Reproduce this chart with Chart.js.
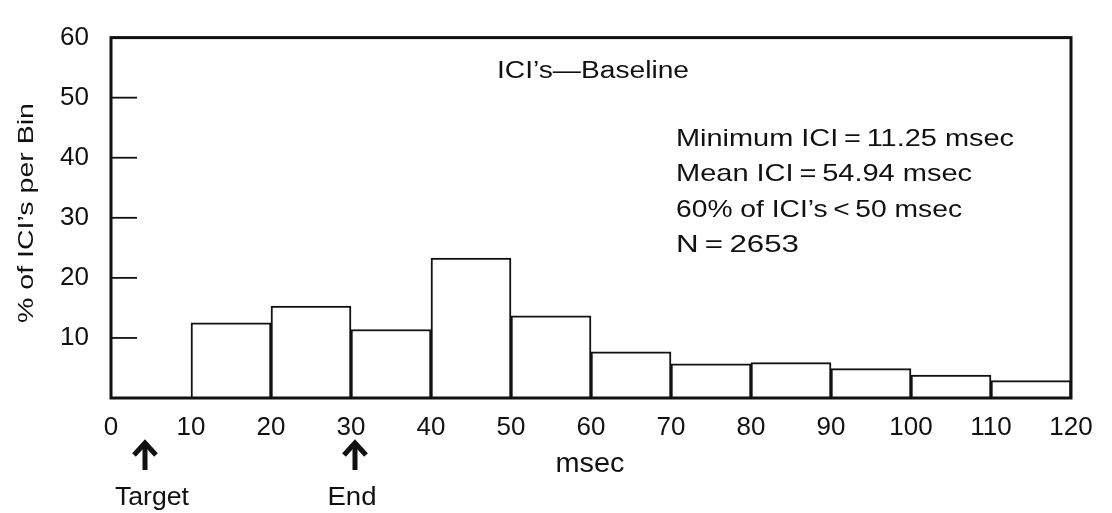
<!DOCTYPE html>
<html>
<head>
<meta charset="utf-8">
<title>ICI's - Baseline</title>
<script src="https://cdn.jsdelivr.net/npm/chart.js@4"></script>
<style>
  html, body { margin: 0; padding: 0; background: #fff; }
  #wrap { width: 1112px; height: 513px; }
</style>
</head>
<body>
<div id="wrap"><canvas id="grafico" width="1112" height="513"></canvas></div>
<script>
// histograma de intervalos (bins de 10 ms)
const binStarts = [10, 20, 30, 40, 50, 60, 70, 80, 90, 100, 110];
const binPercents = [12.5, 15.3, 11.4, 23.3, 13.7, 7.7, 5.7, 5.9, 4.9, 3.8, 2.9];
const yTicks = [10, 20, 30, 40, 50, 60];
const xTicks = [0, 10, 20, 30, 40, 50, 60, 70, 80, 90, 100, 110, 120];
const markerValues = [4.25, 30.5];
const markerLabels = ["Target", "End"];
const titulo = "ICI\u2019s\u2014Baseline";
const statLines = [
  "Minimum ICI\u2009=\u200911.25 msec",
  "Mean ICI\u2009=\u200954.94 msec",
  "60% of ICI\u2019s\u2009<\u200950 msec",
  "N\u2009=\u20092653"
];
const ejeY = "% of ICI\u2019s per Bin";
const ejeX = "msec";

const FONT = "'Liberation Sans', Arial, Helvetica, sans-serif";
const INK = "#111";

// texto con ancho forzado (la tipografia original es mas ancha)
function escribir(ctx, texto, x, y, size, ancho, align) {
  ctx.save();
  ctx.font = size + "px " + FONT;
  ctx.fillStyle = INK;
  ctx.textAlign = align || "left";
  ctx.textBaseline = "alphabetic";
  const w = ctx.measureText(texto).width;
  const k = ancho ? ancho / w : 1;
  ctx.translate(x, y);
  ctx.scale(k, 1);
  ctx.fillText(texto, 0, 0);
  ctx.restore();
}

const marco = {
  id: "marco",
  afterDatasetsDraw(chart) {
    const ctx = chart.ctx;
    const a = chart.chartArea;
    const y = chart.scales.y;
    ctx.save();
    ctx.strokeStyle = INK;
    ctx.lineWidth = 3;
    ctx.strokeRect(a.left, a.top, a.right - a.left, a.bottom - a.top);
    // marcas hacia adentro en el eje Y
    ctx.lineWidth = 1.8;
    yTicks.forEach((v) => {
      if (v >= y.max) return;
      const py = y.getPixelForValue(v);
      ctx.beginPath();
      ctx.moveTo(a.left, py);
      ctx.lineTo(a.left + 26, py);
      ctx.stroke();
    });
    ctx.restore();
  }
};

const textos = {
  id: "textos",
  afterDraw(chart) {
    const ctx = chart.ctx;
    const x = chart.scales.x;

    escribir(ctx, titulo, 497, 78, 23, 192);

    const bases = [146, 181, 217, 252];
    const anchos = [338, 296, 286, 123];
    statLines.forEach((t, i) => escribir(ctx, t, 676, bases[i], 24, anchos[i]));

    // titulo del eje Y
    ctx.save();
    ctx.translate(33, 213);
    ctx.rotate(-Math.PI / 2);
    escribir(ctx, ejeY, 0, 0, 22, 220, "center");
    ctx.restore();

    escribir(ctx, ejeX, 590, 472, 27, 69, "center");

    // flechas Target / End
    ctx.save();
    ctx.strokeStyle = INK;
    ctx.lineWidth = 5;
    ctx.lineCap = "butt";
    ctx.lineJoin = "miter";
    markerValues.forEach((v, i) => {
      const px = x.getPixelForValue(v);
      ctx.beginPath();
      ctx.moveTo(px, 443);
      ctx.lineTo(px, 470);
      ctx.stroke();
      ctx.beginPath();
      ctx.moveTo(px - 11, 455);
      ctx.lineTo(px, 443);
      ctx.lineTo(px + 11, 455);
      ctx.stroke();
      escribir(ctx, markerLabels[i], px + (i === 0 ? 7 : -3), 505, 25, i === 0 ? 74 : 49, "center");
    });
    ctx.restore();
  }
};

const ctx = document.getElementById("grafico").getContext("2d");

new Chart(ctx, {
  type: "bar",
  data: {
    datasets: [{
      data: binStarts.map((s, i) => ({ x: s + 5, y: binPercents[i] })),
      backgroundColor: "#fff",
      borderColor: INK,
      borderWidth: 2,
      borderSkipped: "bottom",
      barPercentage: 1,
      categoryPercentage: 1
    }]
  },
  options: {
    responsive: false,
    devicePixelRatio: 1,
    animation: false,
    layout: { padding: { top: 19, right: 41, bottom: 0, left: 0 } },
    plugins: { legend: { display: false }, tooltip: { enabled: false } },
    scales: {
      x: {
        type: "linear",
        offset: false,
        min: 0,
        max: 120,
        afterBuildTicks: (s) => { s.ticks = xTicks.map((v) => ({ value: v })); },
        afterFit: (s) => { s.height = 115; },
        grid: { display: false, drawTicks: false, offset: false },
        border: { display: false },
        ticks: {
          autoSkip: false,
          maxRotation: 0,
          padding: 14,
          color: INK,
          font: { family: FONT, size: 26 }
        }
      },
      y: {
        min: 0,
        max: 60,
        afterBuildTicks: (s) => { s.ticks = yTicks.map((v) => ({ value: v })); },
        afterFit: (s) => { s.width = 111; },
        grid: { display: false, drawTicks: false },
        border: { display: false },
        ticks: {
          padding: 22,
          color: INK,
          font: { family: FONT, size: 26 }
        }
      }
    }
  },
  plugins: [marco, textos]
});
</script>
</body>
</html>
